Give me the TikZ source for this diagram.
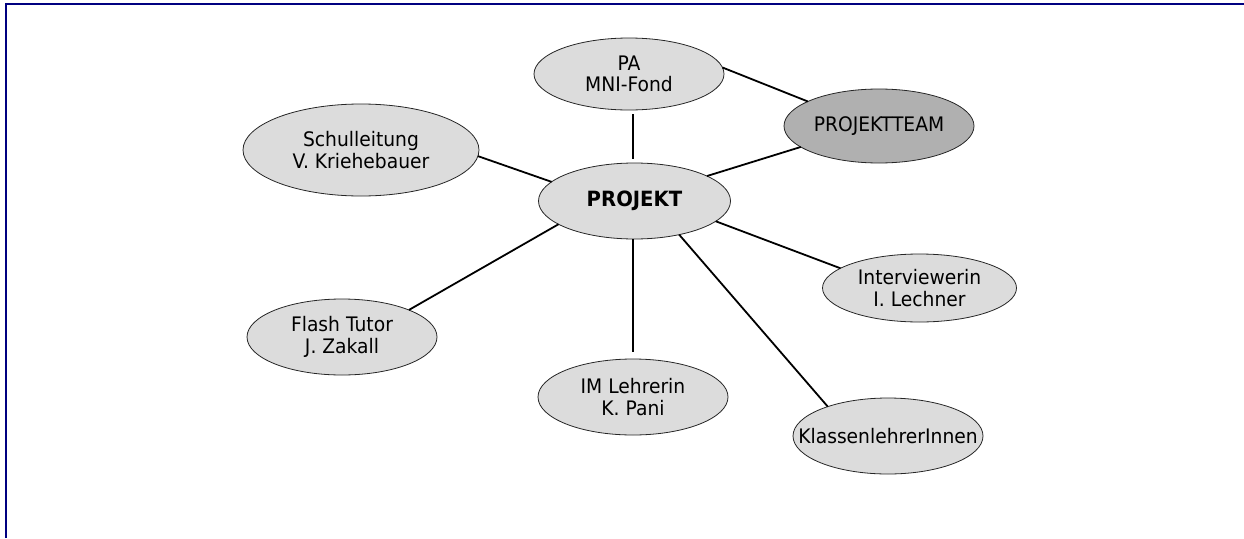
\documentclass[tikz,border=0pt]{standalone}
\usepackage{fontspec}
\setmainfont{DejaVu Sans}[FakeStretch=0.935]
\usetikzlibrary{shapes.geometric}
\definecolor{framenavy}{HTML}{000080}
\definecolor{ellgray}{HTML}{DCDCDC}
\definecolor{teamgray}{HTML}{B0B0B0}
\tikzset{
  ell/.style={ellipse, draw=black!85, line width=0.8pt, fill=ellgray, inner sep=0pt, outer sep=0pt},
  txt/.style={align=center, inner sep=0pt, font=\fontsize{20}{21.5}\selectfont},
  conn/.style={line width=1.8pt, black}
}
\begin{document}
\begin{tikzpicture}[x=1pt, y=-1pt]
\useasboundingbox (0,0) rectangle (1244,538);
% frame
\draw[framenavy, line width=2pt] (5.8,538) -- (5.8,4) -- (1244,4);
% ellipses
\node[ell, minimum width=190pt, minimum height=72pt] (pa) at (629,74) {};
\node[ell, fill=teamgray, minimum width=190pt, minimum height=74pt] (team) at (879,126) {};
\node[ell, minimum width=236pt, minimum height=92pt] (schul) at (361,150) {};
\node[ell, minimum width=192pt, minimum height=76pt] (proj) at (634.5,201) {};
\node[ell, minimum width=190pt, minimum height=76pt] (flash) at (342,337) {};
\node[ell, minimum width=190pt, minimum height=76pt] (im) at (633,397) {};
\node[ell, minimum width=194pt, minimum height=68pt] (inter) at (919.5,288) {};
\node[ell, minimum width=190pt, minimum height=76pt] (klass) at (888,436) {};
% texts
\node[txt] (paT) at (pa) {PA\\MNI-Fond};
\node[txt] (teamT) at (team) {PROJEKTTEAM};
\node[txt] (schulT) at (schul) {Schulleitung\\V. Kriehebauer};
\node[txt, font=\fontsize{21}{21.5}\selectfont\bfseries] (projT) at (proj) {PROJEKT};
\node[txt] (flashT) at (flash) {Flash Tutor\\J. Zakall};
\node[txt] (imT) at (im) {IM Lehrerin\\K. Pani};
\node[txt] (interT) at (inter) {Interviewerin\\I. Lechner};
\node[txt] (klassT) at (klass) {KlassenlehrerInnen};
% connectors
\draw[conn, shorten <=4pt, shorten >=4pt] (pa.south -| im.north) -- (proj.north -| im.north);
\draw[conn] (pa.4) -- (team.161);
\draw[conn] (proj.19) -- (team.195);
\draw[conn] (schul.-3) -- (proj.167);
\draw[conn] (proj.197) -- (flash.22);
\draw[conn, shorten >=7pt] (proj.south -| im.north) -- (im.north);
\draw[conn] (proj.-14) -- (inter.166);
\draw[conn] (proj.-37) -- (klass.154);
\end{tikzpicture}
\end{document}
